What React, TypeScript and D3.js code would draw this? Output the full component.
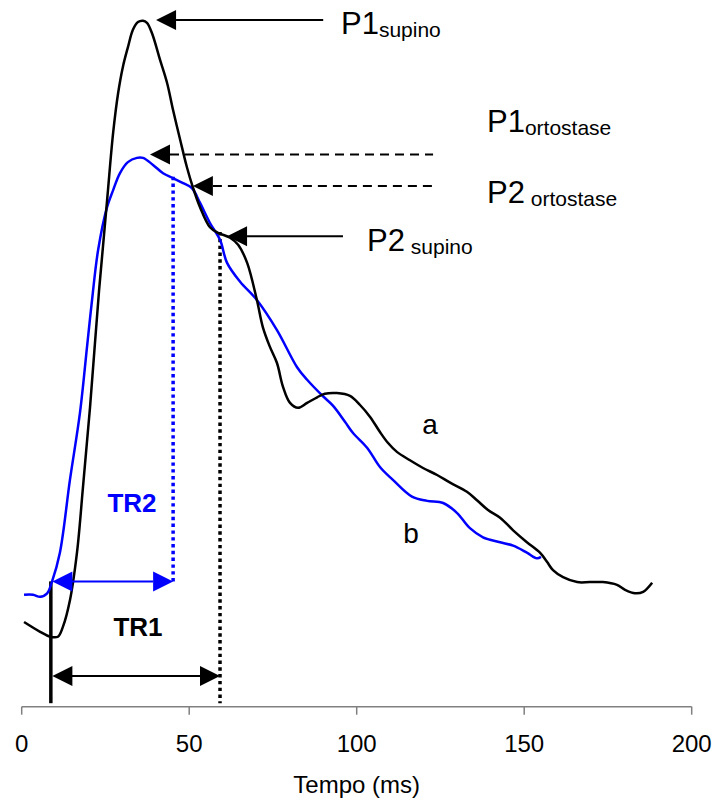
import React from "react";
import * as d3 from "d3";

// Curve a (supino, black): time (ms) and pressure (arbitrary units)
const timeA = [0.7, 5.5, 8.5, 10.8, 12.3, 14.4, 16.5, 18.3, 20.4, 23.1, 25.5, 27.3, 28.8, 30.2, 31.7, 33.2, 34.7, 36.2, 37.4, 38.9, 41.3, 43.4, 45.2, 47.3, 49.3, 51.1, 53.2, 56.2, 58.6, 62.2, 64.6, 67.3, 70.2, 72.0, 74.1, 76.2, 78.0, 80.1, 82.5, 85.2, 88.2, 90.5, 94.1, 98.0, 101.0, 104.0, 107.0, 109.3, 112.0, 115.9, 119.8, 124.0, 127.9, 132.9, 135.9, 139.2, 142.8, 146.7, 150.8, 154.7, 156.8, 158.6, 161.6, 165.8, 169.6, 173.5, 177.7, 180.1, 183.1, 185.5, 188.2];
const pressA = [12.1, 10.7, 10.0, 10.0, 11.4, 15.2, 22.0, 31.4, 42.8, 59.5, 72.4, 82.0, 87.7, 91.4, 94.2, 96.7, 97.8, 98.0, 97.7, 96.2, 92.4, 89.1, 85.2, 81.0, 77.1, 74.2, 71.4, 68.5, 67.7, 67.0, 66.0, 63.4, 58.1, 54.2, 51.4, 49.1, 45.7, 43.4, 42.7, 43.4, 44.2, 44.7, 44.8, 44.4, 43.1, 41.4, 39.2, 37.7, 36.4, 35.2, 34.1, 33.1, 32.0, 30.7, 29.5, 28.1, 27.0, 25.2, 23.5, 22.0, 20.7, 19.5, 18.5, 17.8, 17.8, 17.8, 17.4, 16.7, 16.2, 16.4, 17.7];

// Curve b (ortostase, blue)
const timeB = [0.7, 3.4, 5.5, 7.6, 9.0, 11.4, 14.4, 17.4, 19.5, 21.0, 22.8, 25.5, 27.3, 29.3, 31.7, 34.4, 36.2, 39.2, 42.2, 45.2, 48.2, 50.8, 53.2, 56.2, 59.2, 61.3, 65.2, 70.2, 76.2, 82.2, 85.2, 89.6, 92.9, 96.5, 98.9, 103.1, 107.0, 110.8, 116.5, 121.0, 125.8, 129.9, 133.8, 137.7, 142.8, 146.7, 150.8, 153.8, 155.0];
const pressB = [16.0, 16.0, 15.7, 16.2, 17.8, 22.0, 32.4, 42.0, 51.4, 58.1, 65.2, 71.4, 73.8, 76.2, 77.8, 78.4, 78.4, 77.4, 76.2, 75.5, 74.8, 74.1, 72.0, 69.1, 66.7, 63.4, 60.7, 58.1, 53.8, 48.5, 46.7, 44.5, 43.0, 40.7, 39.1, 37.0, 34.2, 32.4, 30.0, 29.4, 29.1, 27.7, 25.5, 24.2, 23.5, 23.0, 22.0, 21.2, 21.4];

const xTicks = [0, 50, 100, 150, 200];
const xTitle = "Tempo (ms)";

// Annotation values (ms / pressure units)
const tr0 = 8.7;
const tr1End = 59.2;
const tr2End = 45.2;
const trLevels = [4.4, 17.9]; // TR1, TR2 arrow heights
const peakLabels = [
  { main: "P1", sub: "supino", subGap: "", tip: 40.1, end: 90.0, level: 98.1, dashed: false, textX: 95.3, textLevel: 96.1 },
  { main: "P1", sub: "ortostase", subGap: "", tip: 38.3, end: 122.8, level: 78.9, dashed: true, textX: 138.9, textLevel: 82.1 },
  { main: "P2", sub: "ortostase", subGap: " ", tip: 51.1, end: 122.8, level: 74.4, dashed: true, textX: 138.9, textLevel: 71.9 },
  { main: "P2", sub: "supino", subGap: " ", tip: 61.3, end: 95.9, level: 67.2, dashed: false, textX: 103.1, textLevel: 65.1 },
];

const W = 714;
const H = 802;
const FONT = "'Liberation Sans', Arial, sans-serif";

export default function App() {
  const x = d3.scaleLinear().domain([0, 200]).range([21.7, 691.7]);
  const y = d3.scaleLinear().domain([0, 100]).range([706.7, 6.7]);

  const line = d3
    .line<[number, number]>()
    .x((d) => x(d[0]))
    .y((d) => y(d[1]))
    .curve(d3.curveCatmullRom.alpha(0.5));

  const dataA = timeA.map((t, i) => [t, pressA[i]] as [number, number]);
  const dataB = timeB.map((t, i) => [t, pressB[i]] as [number, number]);

  const head = (tipX: number, yy: number, dir: number, color: string, key: string) => {
    const L = 20;
    const h = 10;
    return (
      <path
        key={key}
        d={`M${tipX},${yy} L${tipX + dir * L},${yy - h} L${tipX + dir * L},${yy + h} Z`}
        fill={color}
      />
    );
  };

  const axisY = y(0);
  const tr1Y = y(trLevels[0]);
  const tr2Y = y(trLevels[1]);

  return (
    <svg
      width={W}
      height={H}
      style={{ position: "absolute", left: 0, top: 0, background: "#fff" }}
      fontFamily={FONT}
    >
      <rect width={W} height={H} fill="#fff" />

      {/* x axis */}
      <line x1={x(0)} x2={x(200)} y1={axisY} y2={axisY} stroke="#808080" strokeWidth={1.5} />
      {xTicks.map((t) => (
        <g key={t}>
          <line x1={x(t)} x2={x(t)} y1={axisY} y2={axisY + 8} stroke="#808080" strokeWidth={1.5} />
          <text x={x(t)} y={752} fontSize={24} textAnchor="middle" fill="#000">
            {t}
          </text>
        </g>
      ))}
      <text x={x(100)} y={793} fontSize={24} textAnchor="middle" fill="#000">
        {xTitle}
      </text>

      {/* vertical markers */}
      <line x1={x(tr0)} x2={x(tr0)} y1={tr2Y} y2={y(0.5)} stroke="#000" strokeWidth={3.5} />
      <line
        x1={x(tr1End)}
        x2={x(tr1End)}
        y1={y(67.8)}
        y2={y(0.5)}
        stroke="#000"
        strokeWidth={3.5}
        strokeDasharray="3.4,3.4"
      />
      <line
        x1={x(tr2End)}
        x2={x(tr2End)}
        y1={y(75.7)}
        y2={tr2Y}
        stroke="#0000ff"
        strokeWidth={3.5}
        strokeDasharray="3.4,3.4"
      />

      {/* curves */}
      <path d={line(dataB) || ""} fill="none" stroke="#0000ff" strokeWidth={2.5} />
      <path d={line(dataA) || ""} fill="none" stroke="#000" strokeWidth={2.5} />

      {/* TR2 arrow */}
      <line x1={x(tr0) + 20} x2={x(tr2End) - 20} y1={tr2Y} y2={tr2Y} stroke="#0000ff" strokeWidth={2} />
      {head(x(tr0) + 1.5, tr2Y, 1, "#0000ff", "tr2l")}
      {head(x(tr2End), tr2Y, -1, "#0000ff", "tr2r")}
      <text x={132} y={512} fontSize={26} fontWeight="bold" textAnchor="middle" fill="#0000ff">
        TR2
      </text>

      {/* TR1 arrow */}
      <line x1={x(tr0) + 20} x2={x(tr1End) - 20} y1={tr1Y} y2={tr1Y} stroke="#000" strokeWidth={2} />
      {head(x(tr0) + 1.5, tr1Y, 1, "#000", "tr1l")}
      {head(x(tr1End), tr1Y, -1, "#000", "tr1r")}
      <text x={138} y={636} fontSize={26} fontWeight="bold" textAnchor="middle" fill="#000">
        TR1
      </text>

      {/* peak annotations */}
      {peakLabels.map((p, i) => {
        const yy = y(p.level);
        const tip = x(p.tip);
        return (
          <g key={i}>
            <line
              x1={tip + 20}
              x2={x(p.end)}
              y1={yy}
              y2={yy}
              stroke="#000"
              strokeWidth={2}
              strokeDasharray={p.dashed ? "9,6" : undefined}
            />
            {head(tip, yy, 1, "#000", "h" + i)}
            <text x={x(p.textX)} y={y(p.textLevel)} fontSize={31} fill="#000">
              {p.main}
              <tspan fontSize={21} dy={3}>
                {p.subGap ? "\u00a0" : ""}
                {p.sub}
              </tspan>
            </text>
          </g>
        );
      })}

      {/* series labels */}
      <text x={430} y={434} fontSize={28} textAnchor="middle" fill="#000">
        a
      </text>
      <text x={411} y={543} fontSize={28} textAnchor="middle" fill="#000">
        b
      </text>
    </svg>
  );
}
